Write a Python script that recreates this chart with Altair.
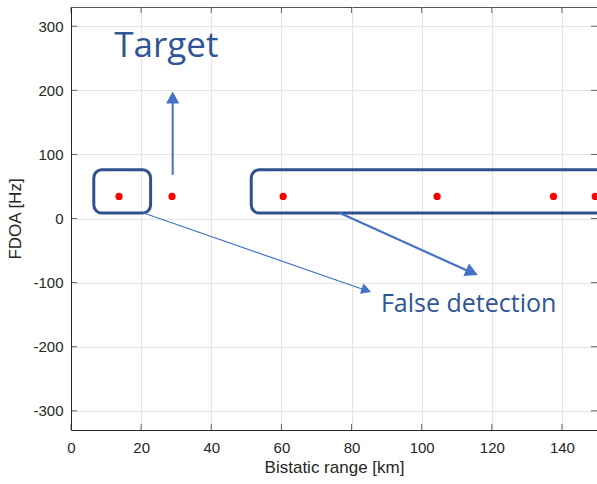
import altair as alt
import pandas as pd

# detections
det_range_km = [13.7, 28.8, 60.5, 104.4, 137.6, 149.5]
det_fdoa_hz = [34.4, 34.4, 34.4, 34.4, 34.4, 34.4]

x_ticks = [0, 20, 40, 60, 80, 100, 120, 140]
y_ticks = [-300, -200, -100, 0, 100, 200, 300]

# annotation boxes (data coords)
box_x1 = [6.5, 51.4]
box_x2 = [22.7, 156.0]
box_y1 = [76, 76]
box_y2 = [8.4, 8.4]

# arrow shafts
arr_x1 = [29.0, 20.5, 76.5]
arr_y1 = [68.0, 9.0, 9.0]
arr_x2 = [29.0, 84.0, 114.5]
arr_y2 = [185.0, -112.0, -85.0]
arr_w = [2.0, 1.2, 2.2]
# arrow heads (tip positions)
head_x = [29.0, 85.6, 116.0]
head_y = [198.0, -114.5, -88.0]
head_angle = [0, 109, 114]
head_size = [144, 100, 160]

labels_text = ["Target", "False detection"]
labels_x = [27.2, 113.4]
labels_y = [252.0, -145.4]
labels_size = [35, 25]

XD = [0, 150]
YD = [-330, 330]
BLUE = "#4472C4"
DARK = "#2F528F"
TXT = "#2F5597"
AX = "#262626"

xs = alt.Scale(domain=XD, nice=False, zero=False)
ys = alt.Scale(domain=YD, nice=False, zero=False)

pts = pd.DataFrame({"x": det_range_km, "y": det_fdoa_hz})
boxes = pd.DataFrame({"x": box_x1, "x2": box_x2, "y": box_y1, "y2": box_y2})
arrows = pd.DataFrame({"x": arr_x1, "y": arr_y1, "x2": arr_x2, "y2": arr_y2, "w": arr_w})
heads = pd.DataFrame({"x": head_x, "y": head_y, "a": head_angle, "s": head_size})
labs = pd.DataFrame({"x": labels_x, "y": labels_y, "t": labels_text, "fs": labels_size})
xt = pd.DataFrame({"v": x_ticks})
yt = pd.DataFrame({"v": y_ticks})

base_x_axis = alt.Axis(values=x_ticks, title="Bistatic range [km]", grid=True,
                       gridColor="#e4e4e4", ticks=False, domainColor=AX,
                       labelColor=AX, titleColor=AX, labelFont="Liberation Sans",
                       titleFont="Liberation Sans", labelFontSize=15, titleFontSize=17,
                       titleFontWeight="normal", labelPadding=10, titlePadding=4,
                       labelFlush=False, labelExpr="'' + datum.value")
base_y_axis = alt.Axis(values=y_ticks, title="FDOA [Hz]", grid=True,
                       gridColor="#e4e4e4", ticks=False, domainColor=AX,
                       labelColor=AX, titleColor=AX, labelFont="Liberation Sans",
                       titleFont="Liberation Sans", labelFontSize=15, titleFontSize=17,
                       titleFontWeight="normal", labelPadding=8, titlePadding=8,
                       labelFlush=False, labelExpr="'' + datum.value")

grid_layer = alt.Chart(pts).mark_point(opacity=0).encode(
    x=alt.X("x:Q", scale=xs, axis=base_x_axis),
    y=alt.Y("y:Q", scale=ys, axis=base_y_axis),
)

tick_bottom = alt.Chart(xt).mark_tick(orient="vertical", size=6, yOffset=-3, color=AX, thickness=1).encode(
    x=alt.X("v:Q", scale=xs), y=alt.datum(YD[0]))
tick_top = alt.Chart(xt).mark_tick(orient="vertical", size=6, yOffset=3, color=AX, thickness=1).encode(
    x=alt.X("v:Q", scale=xs), y=alt.datum(YD[1]))
tick_left = alt.Chart(yt).mark_tick(orient="horizontal", size=6, xOffset=3, color=AX, thickness=1).encode(
    y=alt.Y("v:Q", scale=ys), x=alt.datum(XD[0]))
tick_right = alt.Chart(yt).mark_tick(orient="horizontal", size=6, xOffset=-3, color=AX, thickness=1).encode(
    y=alt.Y("v:Q", scale=ys), x=alt.datum(XD[1]))

box_layer = alt.Chart(boxes).mark_rect(fillOpacity=0, stroke=DARK, strokeWidth=3,
                                       cornerRadius=8, clip=True).encode(
    x=alt.X("x:Q", scale=xs), x2="x2:Q", y=alt.Y("y:Q", scale=ys), y2="y2:Q")

arrow_layer = alt.Chart(arrows).mark_rule(color=BLUE).encode(
    x=alt.X("x:Q", scale=xs), y=alt.Y("y:Q", scale=ys), x2="x2:Q", y2="y2:Q",
    strokeWidth=alt.StrokeWidth("w:Q", scale=None))

head_layer = alt.Chart(heads).mark_point(
    shape="M0,0 L-1.1,2 L1.1,2 Z", filled=True, opacity=1, color=BLUE, strokeWidth=0).encode(
    x=alt.X("x:Q", scale=xs), y=alt.Y("y:Q", scale=ys),
    angle=alt.Angle("a:Q", scale=None), size=alt.Size("s:Q", scale=None))

pt_layer = alt.Chart(pts).mark_circle(color="#FF0000", size=52, opacity=1, clip=True).encode(
    x=alt.X("x:Q", scale=xs), y=alt.Y("y:Q", scale=ys))

text_layer = alt.Chart(labs).mark_text(font="Open Sans", color=TXT, baseline="alphabetic", align="center").encode(
    x=alt.X("x:Q", scale=xs), y=alt.Y("y:Q", scale=ys), text="t:N",
    size=alt.Size("fs:Q", scale=None))

chart = alt.layer(grid_layer, tick_bottom, tick_top, tick_left, tick_right,
                  box_layer, arrow_layer, head_layer, pt_layer, text_layer).properties(
    width=526, height=423,
    padding={"left": 71, "top": 7, "right": 0, "bottom": 54},
    autosize=alt.AutoSizeParams(type="none"),
    background="white",
).configure_view(stroke="#555555", strokeWidth=1)

chart.save("out.html", embed_options={"renderer": "svg", "actions": False})
